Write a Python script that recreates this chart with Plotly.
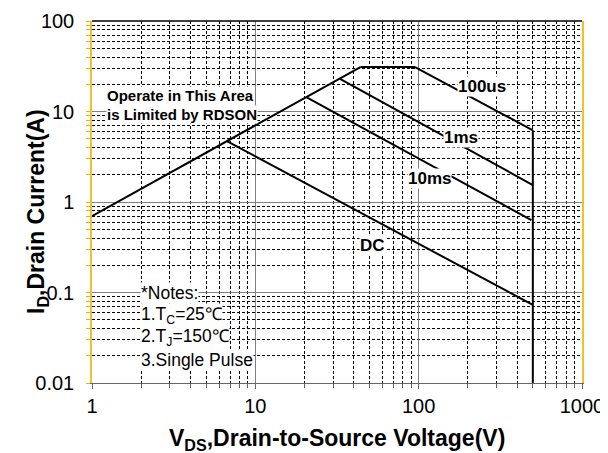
import math
import plotly.graph_objects as go

# ---- data (V in volts, I in amps) ----
rds_v = [1, 44]
rds_i = [0.7, 31]
lim_v = [44, 95]
lim_i = [31, 31]
us100_v = [95, 500]
us100_i = [31, 6.2]
ms1_v = [33, 500]
ms1_i = [23, 1.54]
ms10_v = [20.5, 490]
ms10_i = [14.4, 0.63]
dc_v = [6.7, 500]
dc_i = [4.7, 0.073]
bv_v = [500, 500]
bv_i = [6.2, 0.01]

x_ticks = [1, 10, 100, 1000]
x_ticktext = ["1", "10", "100", "1000"]
y_ticks = [0.01, 0.1, 1, 10, 100]
y_ticktext = ["0.01", "0.1", "1", "10", "100"]

x_minor = [m * 10 ** k for k in range(0, 3) for m in range(2, 10)]
y_minor = [m * 10 ** k for k in range(-2, 2) for m in range(2, 10)]

FONT = "Arial, Liberation Sans, sans-serif"

fig = go.Figure()
line_style = dict(color="black", width=2)
for vx, iy in [(rds_v, rds_i), (lim_v, lim_i), (us100_v, us100_i), (ms1_v, ms1_i),
               (ms10_v, ms10_i), (dc_v, dc_i), (bv_v, bv_i)]:
    fig.add_trace(go.Scatter(x=vx, y=iy, mode="lines", line=line_style,
                             showlegend=False, hoverinfo="skip"))

# page body has an 8px margin, so the figure is 600x445 and the margins compensate
fig.update_layout(
    width=600, height=445,
    margin=dict(l=84, r=26, t=13, b=70, autoexpand=False),
    paper_bgcolor="white", plot_bgcolor="white",
    font=dict(family=FONT, color="black"),
    showlegend=False,
)

fig.update_xaxes(
    type="log", range=[0, 3], automargin=False,
    tickvals=x_ticks, ticktext=x_ticktext,
    tickfont=dict(size=20, family=FONT, color="black"),
    ticks="outside", ticklen=5, tickcolor="#666666",
    showline=True, linecolor="#666666", linewidth=1,
    showgrid=True, gridcolor="#808080", gridwidth=1,
    zeroline=False,
    minor=dict(tickvals=x_minor, ticks="outside", ticklen=4, tickcolor="#666666",
               showgrid=True, gridcolor="black", gridwidth=1, griddash="3px,2px"),
    ticklabelstandoff=0,
)
fig.update_yaxes(
    type="log", range=[-2, 2], automargin=False,
    tickvals=y_ticks, ticktext=y_ticktext,
    tickfont=dict(size=20, family=FONT, color="black"),
    ticks="outside", ticklen=4, tickcolor="#f0b400",
    showline=True, linecolor="#f0c030", linewidth=1.5, mirror=True,
    showgrid=True, gridcolor="#808080", gridwidth=1,
    zeroline=False,
    minor=dict(tickvals=y_minor, ticks="outside", ticklen=4, tickcolor="#f0b400",
               showgrid=True, gridcolor="black", gridwidth=1, griddash="3px,2px"),
    ticklabelstandoff=8,
)

# top border
fig.add_shape(type="line", xref="paper", yref="paper", x0=0, x1=1, y0=1, y1=1,
              line=dict(color="black", width=1.5))

L = math.log10


def label(text, x, y, size, bold=True, xanchor="center"):
    fig.add_annotation(x=L(x), y=L(y), xref="x", yref="y", text=text, showarrow=False,
                       xanchor=xanchor, yanchor="middle", bgcolor="white", borderpad=0,
                       font=dict(size=size, family=FONT, color="black",
                                 weight="bold" if bold else "normal"))


label("Operate in This Area", 1.22, 15.2, 15, xanchor="left")
label("is Limited by RDSON", 1.22, 9.15, 15, xanchor="left")
label("100us", 244, 18.7, 17)
label("1ms", 182, 5.1, 17)
label("10ms", 116, 1.84, 17)
label("DC", 51.9, 0.327, 17)

label("*Notes:", 1.97, 0.0986, 17.5, bold=False, xanchor="left")
label("1.T<sub>C</sub>=25℃", 1.97, 0.0564, 17.5, bold=False, xanchor="left")
label("2.T<sub>J</sub>=150℃", 1.97, 0.0322, 17.5, bold=False, xanchor="left")
label("3.Single Pulse", 1.97, 0.0179, 17.5, bold=False, xanchor="left")

# axis titles
fig.add_annotation(xref="paper", yref="paper", x=0.5, y=-(439 - 383) / 362,
                   text="V<sub>DS</sub>,Drain-to-Source Voltage(V)", showarrow=False,
                   xanchor="center", yanchor="middle",
                   font=dict(size=23, family=FONT, color="black", weight="bold"))
fig.add_annotation(xref="paper", yref="paper", x=(37 - 92) / 490, y=(383 - 212) / 362,
                   text="I<sub>D</sub>,Drain Current(A)", showarrow=False, textangle=-90,
                   xanchor="center", yanchor="middle",
                   font=dict(size=23, family=FONT, color="black", weight="bold"))

fig.write_html("out.html")
